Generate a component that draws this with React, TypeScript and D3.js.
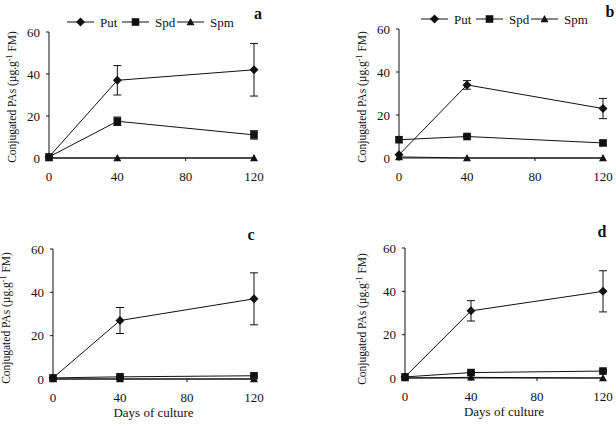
import React from "react";
import * as d3 from "d3";

const days = [0, 40, 120];
const xTicks = [0, 40, 80, 120];
const yTicks = [0, 20, 40, 60];
const seriesNames = ["Put", "Spd", "Spm"];
const panelLabels = ["a", "b", "c", "d"];

// values per panel: [Put, Spd, Spm]
const putA = [0.5, 37, 42];
const putAErr = [0, 7, 12.5];
const spdA = [0.5, 17.5, 11];
const spdAErr = [0, 2, 2];
const spmA = [0, 0, 0];

const putB = [1.5, 34, 23];
const putBErr = [0, 2, 4.7];
const spdB = [8.5, 10, 7];
const spdBErr = [0, 0.5, 1];
const spmB = [0.5, 0, 0];

const putC = [0.5, 27, 37];
const putCErr = [0, 6, 12];
const spdC = [0.5, 1, 1.5];
const spdCErr = [0, 0.3, 0.5];
const spmC = [0, 0, 0];

const putD = [0.5, 31, 40];
const putDErr = [0, 4.7, 9.5];
const spdD = [0.5, 2.5, 3.2];
const spdDErr = [0, 0.4, 0.5];
const spmD = [0, 0.3, 0];

const panelData = [
  { put: putA, putErr: putAErr, spd: spdA, spdErr: spdAErr, spm: spmA },
  { put: putB, putErr: putBErr, spd: spdB, spdErr: spdBErr, spm: spmB },
  { put: putC, putErr: putCErr, spd: spdC, spdErr: spdCErr, spm: spmC },
  { put: putD, putErr: putDErr, spd: spdD, spdErr: spdDErr, spm: spmD },
];

// layout
const layouts = [
  { x0: 49, x1: 254, yTop: 32, yBot: 158, legend: { x: 67, y: 22 }, ylab: { x: 12, y: 97 }, tag: { x: 258, y: 19 }, xlab: false },
  { x0: 399, x1: 603, yTop: 29, yBot: 158, legend: { x: 421, y: 19 }, ylab: { x: 362, y: 97 }, tag: { x: 610, y: 17 }, xlab: false },
  { x0: 53, x1: 254, yTop: 249, yBot: 379, legend: null, ylab: { x: 6, y: 318 }, tag: { x: 251, y: 240 }, xlab: true },
  { x0: 405, x1: 603, yTop: 248, yBot: 378, legend: null, ylab: { x: 362, y: 319 }, tag: { x: 602, y: 237 }, xlab: true },
];

const FONT = "Liberation Serif, Times New Roman, DejaVu Serif, serif";
const INK = "#111";

function Marker({ kind, x, y }: { kind: string; x: number; y: number }) {
  if (kind === "Put") {
    const s = 4.5;
    return <path d={`M${x},${y - s}L${x + s},${y}L${x},${y + s}L${x - s},${y}Z`} fill={INK} />;
  }
  if (kind === "Spd") {
    const s = 3.8;
    return <rect x={x - s} y={y - s} width={2 * s} height={2 * s} fill={INK} />;
  }
  const s = 4;
  return <path d={`M${x},${y - s}L${x + s},${y + s * 0.8}L${x - s},${y + s * 0.8}Z`} fill={INK} />;
}

function Panel({ idx }: { idx: number }) {
  const L = layouts[idx];
  const D = panelData[idx];
  const x = d3.scaleLinear().domain([0, 120]).range([L.x0, L.x1]);
  const y = d3.scaleLinear().domain([0, 60]).range([L.yBot, L.yTop]);
  const line = d3
    .line<[number, number]>()
    .x((d) => x(d[0]))
    .y((d) => y(d[1]));
  const series = [
    { name: "Put", vals: D.put, err: D.putErr },
    { name: "Spd", vals: D.spd, err: D.spdErr },
    { name: "Spm", vals: D.spm, err: null as number[] | null },
  ];
  return (
    <g style={{ fontFamily: FONT }}>
      <line x1={L.x0} x2={L.x0} y1={L.yTop} y2={L.yBot} stroke={INK} strokeWidth={1} />
      <line x1={L.x0} x2={L.x1} y1={L.yBot} y2={L.yBot} stroke={INK} strokeWidth={1} />
      {yTicks.map((t) => (
        <g key={"y" + t}>
          <line x1={L.x0 - 3} x2={L.x0} y1={y(t)} y2={y(t)} stroke={INK} />
          <text x={L.x0 - 9} y={y(t)} dy="0.35em" textAnchor="end" fontSize={13} fill={INK}>
            {t}
          </text>
        </g>
      ))}
      {xTicks.map((t) => (
        <g key={"x" + t}>
          <line x1={x(t)} x2={x(t)} y1={L.yBot} y2={L.yBot + 3} stroke={INK} />
          <text x={x(t)} y={L.yBot + 23} textAnchor="middle" fontSize={13} fill={INK}>
            {t}
          </text>
        </g>
      ))}
      {series.map((s) => (
        <g key={s.name}>
          <path d={line(days.map((d, i) => [d, s.vals[i]]) as [number, number][]) || ""} fill="none" stroke={INK} strokeWidth={1} />
          {s.err &&
            days.map((d, i) =>
              s.err![i] > 0 ? (
                <g key={"e" + i}>
                  <line x1={x(d)} x2={x(d)} y1={y(s.vals[i] - s.err![i])} y2={y(s.vals[i] + s.err![i])} stroke={INK} />
                  <line x1={x(d) - 4} x2={x(d) + 4} y1={y(s.vals[i] - s.err![i])} y2={y(s.vals[i] - s.err![i])} stroke={INK} />
                  <line x1={x(d) - 4} x2={x(d) + 4} y1={y(s.vals[i] + s.err![i])} y2={y(s.vals[i] + s.err![i])} stroke={INK} />
                </g>
              ) : null
            )}
          {days.map((d, i) => (
            <Marker key={"m" + i} kind={s.name} x={x(d)} y={y(s.vals[i])} />
          ))}
        </g>
      ))}
      <text
        transform={`translate(${L.ylab.x},${L.ylab.y}) rotate(-90)`}
        textAnchor="middle"
        dy="0.35em"
        fontSize={11.5}
        fill={INK}
      >
        Conjugated PAs (µg.g
        <tspan dy="-4" fontSize={8}>-1</tspan>
        <tspan dy="4"> FM)</tspan>
      </text>
      {L.xlab && (
        <text x={(L.x0 + L.x1) / 2} y={L.yBot + 38} textAnchor="middle" fontSize={13} fill={INK}>
          Days of culture
        </text>
      )}
      <text x={L.tag.x} y={L.tag.y} textAnchor="middle" fontSize={16} fontWeight="bold" fill={INK}>
        {panelLabels[idx]}
      </text>
      {L.legend && (
        <g transform={`translate(${L.legend.x},${L.legend.y})`}>
          {seriesNames.map((n, i) => {
            const ox = i * 55;
            return (
              <g key={n}>
                <line x1={ox} x2={ox + 27} y1={0} y2={0} stroke={INK} />
                <Marker kind={n} x={ox + 13.5} y={0} />
                <text x={ox + 33} y={0} dy="0.35em" fontSize={13} fill={INK}>
                  {n}
                </text>
              </g>
            );
          })}
        </g>
      )}
    </g>
  );
}

export default function App() {
  return (
    <svg width={616} height={441} style={{ position: "absolute", left: 0, top: 0, background: "#fff" }}>
      <rect width={616} height={441} fill="#fff" />
      {[0, 1, 2, 3].map((i) => (
        <Panel key={i} idx={i} />
      ))}
    </svg>
  );
}
